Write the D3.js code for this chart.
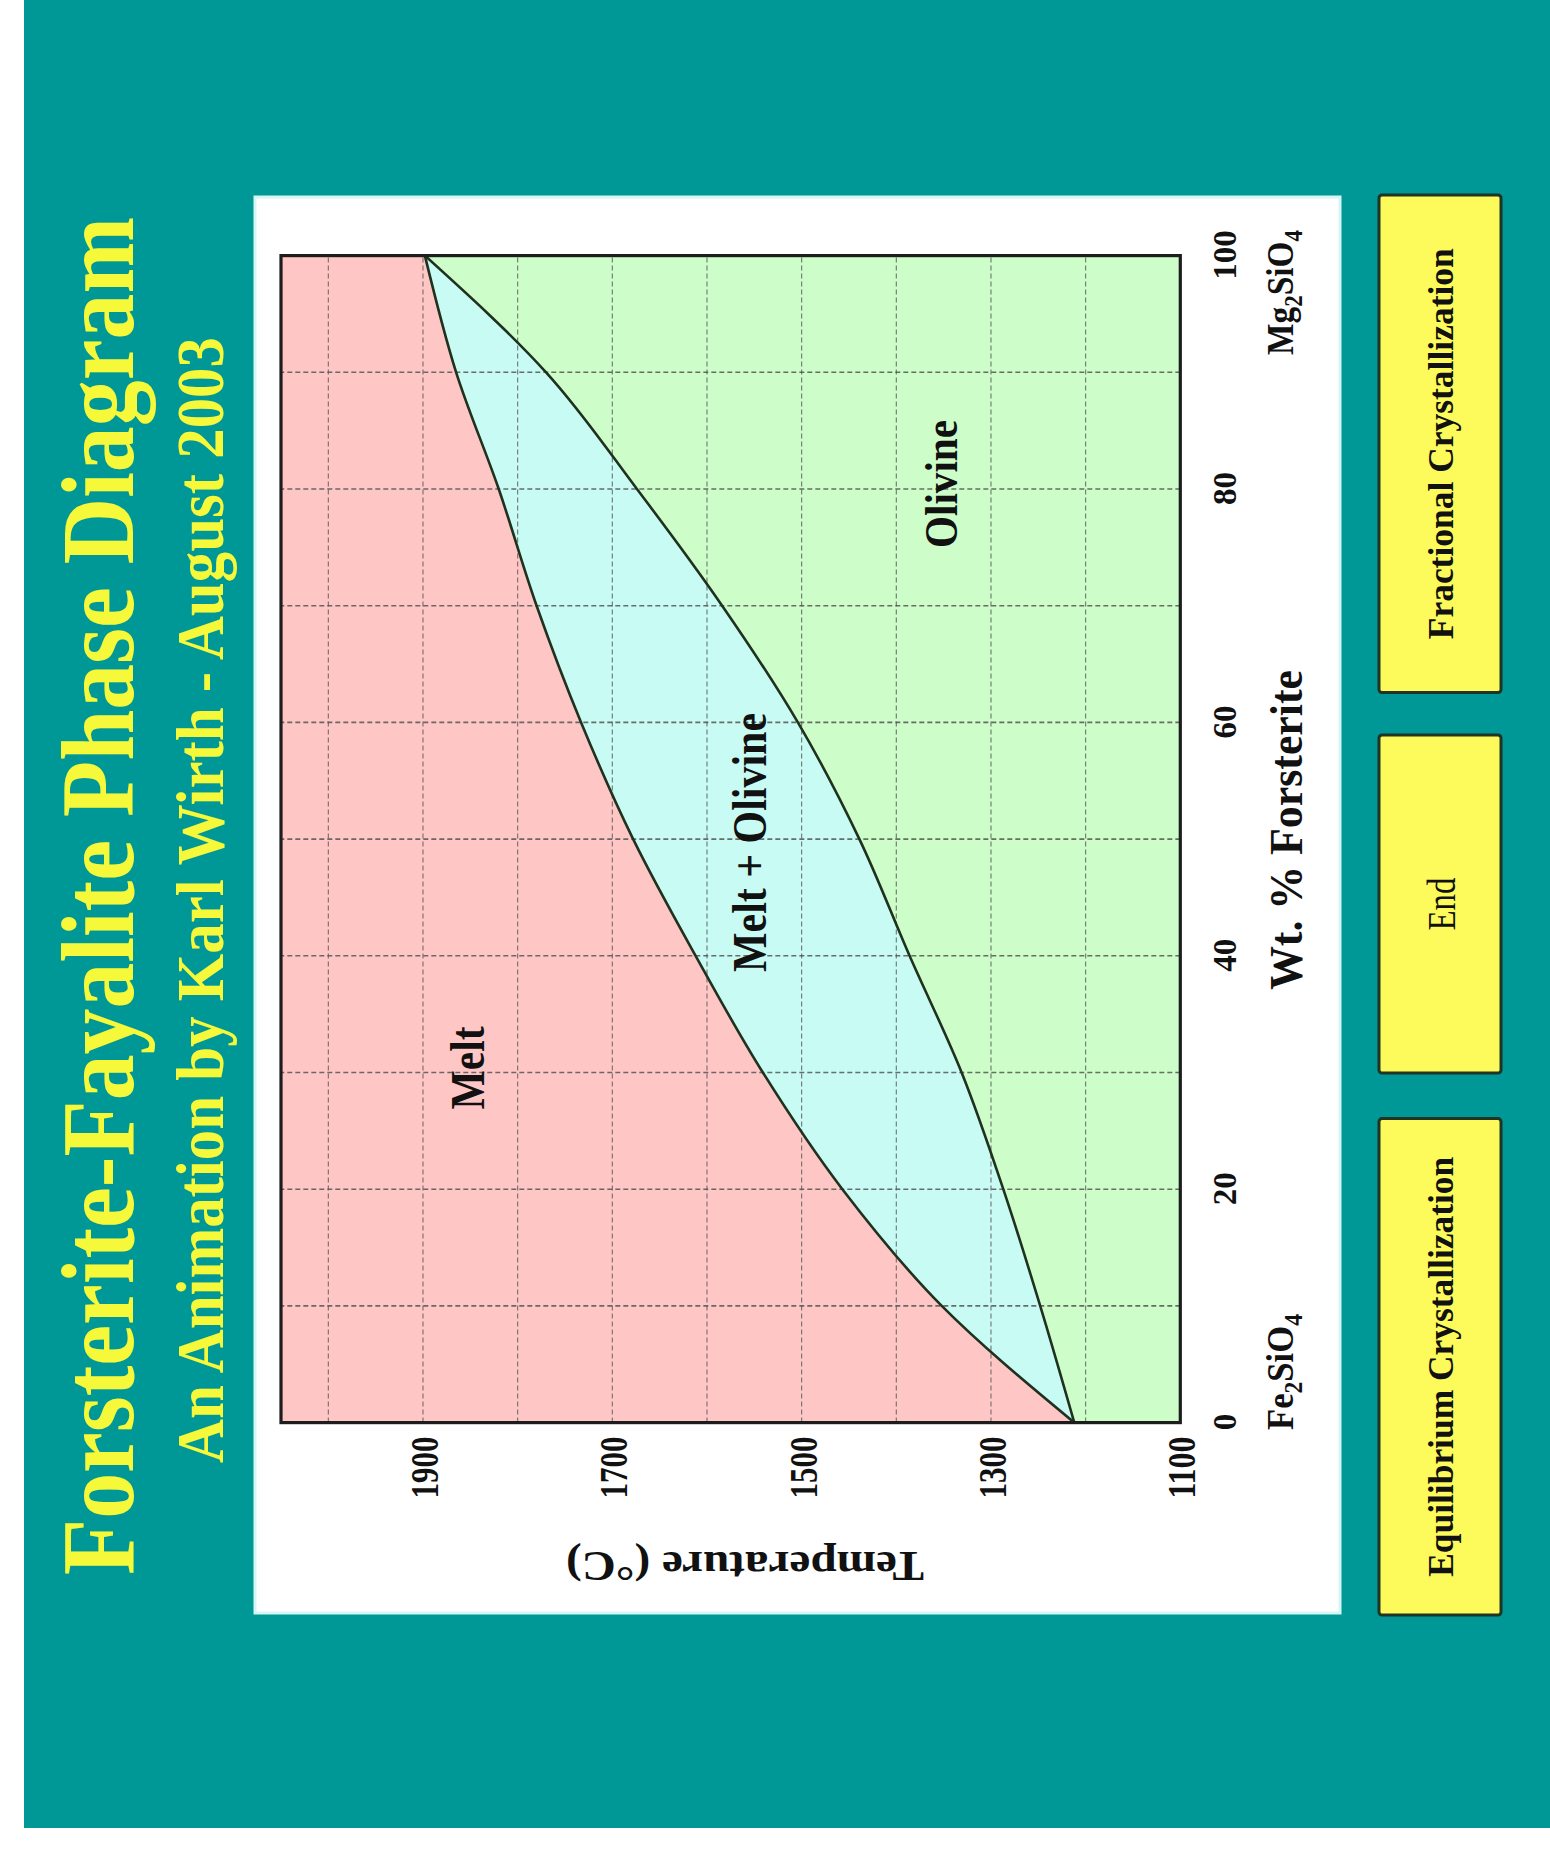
<!DOCTYPE html>
<html>
<head>
<meta charset="utf-8">
<script src="https://cdn.jsdelivr.net/npm/d3@7"></script>
<style>
  html, body { margin: 0; padding: 0; background: #ffffff; }
  svg { display: block; }
  text { font-family: "Liberation Serif", "Times New Roman", Times, serif; }
</style>
</head>
<body>
<svg id="chart" width="1550" height="1861"></svg>
<script>
// Composition (wt. % forsterite) at which the phase boundaries are sampled
const composition = [0, 10, 20, 30, 40, 50, 60, 70, 80, 90, 100];
// Liquidus temperature (°C) — above it everything is melt
const liquidusT = [1212, 1352, 1457, 1541, 1612, 1678, 1733, 1780, 1820, 1865, 1898];
// Solidus temperature (°C) — below it everything is solid olivine
const solidusT = [1212, 1248, 1287, 1331, 1386, 1439, 1504, 1584, 1674, 1770, 1898];

// Axis ticks and labels
const compTicks = [0, 20, 40, 60, 80, 100];
const compGrid = [10, 20, 30, 40, 50, 60, 70, 80, 90];
const tempTicks = [1100, 1300, 1500, 1700, 1900];
const tempGrid = [1200, 1300, 1400, 1500, 1600, 1700, 1800, 1900, 2000];
const tempDomain = [1100, 2050];

// Slide texts
const titleText = "Forsterite-Fayalite Phase Diagram";
const subtitleText = "An Animation by Karl Wirth - August 2003";
const xAxisTitle = "Wt. % Forsterite";
const yAxisTitle = "Temperature (°C)";
const fieldLabels = ["Melt", "Melt + Olivine", "Olivine"];
const buttonLabels = ["Equilibrium Crystallization", "End", "Fractional Crystallization"];

const W = 1550, H = 1861;
const svg = d3.select("#chart");

// The slide is laid out in landscape and turned a quarter-turn counter-clockwise
const slide = svg.append("g").attr("transform", `translate(0,${H}) rotate(-90)`);

// stretch/squeeze a plain text to a given advance length
function fit(sel, len) {
  sel.attr("textLength", len).attr("lengthAdjust", "spacingAndGlyphs");
  return sel;
}
// same, for texts that contain tspans: scale horizontally around the anchor
function squeeze(sel, x, y, len) {
  const w = sel.node().getComputedTextLength();
  sel.attr("x", 0).attr("y", 0)
     .attr("transform", `translate(${x},${y}) scale(${len / w},1)`);
}

// Background
slide.append("rect")
  .attr("x", 33).attr("y", 24).attr("width", 1828).attr("height", 1526)
  .attr("fill", "#009797");

// Title block
fit(slide.append("text")
  .attr("x", 965).attr("y", 133)
  .attr("text-anchor", "middle")
  .attr("font-size", 104).attr("font-weight", "bold")
  .attr("fill", "#f6f93a")
  .text(titleText), 1358);

fit(slide.append("text")
  .attr("x", 961).attr("y", 223)
  .attr("text-anchor", "middle")
  .attr("font-size", 68).attr("font-weight", "bold")
  .attr("fill", "#f6f93a")
  .text(subtitleText), 1126);

// White chart panel
slide.append("rect")
  .attr("x", 248).attr("y", 255).attr("width", 1416).attr("height", 1085)
  .attr("fill", "#ffffff")
  .attr("stroke", "#d6f6f4").attr("stroke-width", 3);

// Scales
const xs = d3.scaleLinear().domain([0, 100]).range([438.4, 1605.4]);
const ys = d3.scaleLinear().domain(tempDomain).range([1180.3, 281]);

const rows = composition.map((c, i) => ({ c, liq: liquidusT[i], sol: solidusT[i] }));

const plot = slide.append("g");
plot.append("clipPath").attr("id", "plotClip")
  .append("rect")
  .attr("x", xs(0)).attr("y", ys(tempDomain[1]))
  .attr("width", xs(100) - xs(0)).attr("height", ys(tempDomain[0]) - ys(tempDomain[1]));

const fields = plot.append("g").attr("clip-path", "url(#plotClip)");

// Olivine (solid) field fills the frame; melt and two-phase fields on top
fields.append("rect")
  .attr("x", xs(0)).attr("y", ys(tempDomain[1]))
  .attr("width", xs(100) - xs(0)).attr("height", ys(tempDomain[0]) - ys(tempDomain[1]))
  .attr("fill", "#cdfdc8");

const curve = d3.curveMonotoneX;

fields.append("path")
  .datum(rows)
  .attr("fill", "#ffc6c6")
  .attr("d", d3.area().curve(curve)
    .x(d => xs(d.c)).y0(ys(tempDomain[1])).y1(d => ys(d.liq)));

fields.append("path")
  .datum(rows)
  .attr("fill", "#c8fbf3")
  .attr("d", d3.area().curve(curve)
    .x(d => xs(d.c)).y0(d => ys(d.liq)).y1(d => ys(d.sol)));

// Dashed grid
fields.selectAll("line.gx").data(compGrid).join("line")
  .attr("class", "gx")
  .attr("x1", d => xs(d)).attr("x2", d => xs(d))
  .attr("y1", ys(tempDomain[0])).attr("y2", ys(tempDomain[1]))
  .attr("stroke", "#555").attr("stroke-width", 1.6)
  .attr("stroke-dasharray", "5,3").attr("opacity", 0.85);

fields.selectAll("line.gy").data(tempGrid).join("line")
  .attr("class", "gy")
  .attr("x1", xs(0)).attr("x2", xs(100))
  .attr("y1", d => ys(d)).attr("y2", d => ys(d))
  .attr("stroke", "#555").attr("stroke-width", 1.1)
  .attr("stroke-dasharray", "5,3").attr("opacity", 0.8);

// Liquidus and solidus
const line = (key) => d3.line().curve(curve).x(d => xs(d.c)).y(d => ys(d[key]));
fields.append("path").datum(rows)
  .attr("fill", "none").attr("stroke", "#1f311f").attr("stroke-width", 2.6)
  .attr("d", line("liq"));
fields.append("path").datum(rows)
  .attr("fill", "none").attr("stroke", "#1f311f").attr("stroke-width", 2.6)
  .attr("d", line("sol"));

// Frame
plot.append("rect")
  .attr("x", xs(0)).attr("y", ys(tempDomain[1]))
  .attr("width", xs(100) - xs(0)).attr("height", ys(tempDomain[0]) - ys(tempDomain[1]))
  .attr("fill", "none").attr("stroke", "#1d1d1d").attr("stroke-width", 3.2);

// Composition axis
const xAxis = plot.append("g")
  .attr("transform", `translate(0,${ys(tempDomain[0])})`)
  .call(d3.axisBottom(xs).tickValues(compTicks).tickSize(0).tickFormat(d3.format("d")));
xAxis.select(".domain").remove();
xAxis.selectAll("text")
  .attr("y", 55.7).attr("dy", 0)
  .attr("font-family", "'Liberation Serif', 'Times New Roman', serif")
  .attr("font-size", 33).attr("font-weight", "bold").attr("fill", "#111");

// Temperature axis
const yAxis = plot.append("g")
  .attr("transform", `translate(${xs(0)},0)`)
  .call(d3.axisLeft(ys).tickValues(tempTicks).tickSize(0).tickPadding(14).tickFormat(d3.format("d")));
yAxis.select(".domain").remove();
yAxis.selectAll("text")
  .attr("dy", "0.35em")
  .attr("font-family", "'Liberation Serif', 'Times New Roman', serif")
  .attr("font-size", 41).attr("font-weight", "bold").attr("fill", "#111")
  .attr("textLength", 62).attr("lengthAdjust", "spacingAndGlyphs");

// Axis titles
fit(slide.append("text")
  .attr("x", 1031).attr("y", 1302)
  .attr("text-anchor", "middle")
  .attr("font-size", 46).attr("font-weight", "bold").attr("fill", "#111")
  .text(xAxisTitle), 320);

fit(slide.append("text")
  .attr("transform", "translate(309,745) rotate(-90)")
  .attr("text-anchor", "middle")
  .attr("font-size", 42).attr("font-weight", "bold").attr("fill", "#111")
  .text(yAxisTitle), 358);

// End-member formulas
function formula(parts, x, y, len, anchor) {
  const t = slide.append("text")
    .attr("text-anchor", anchor)
    .attr("font-size", 38).attr("font-weight", "bold").attr("fill", "#111");
  parts.forEach(p => {
    const s = t.append("tspan").text(p.s);
    if (p.sub) s.attr("font-size", 26).attr("dy", 9);
    else if (p.after) s.attr("dy", -9);
  });
  squeeze(t, x, y, len);
}
formula([{ s: "Fe" }, { s: "2", sub: true }, { s: "SiO", after: true }, { s: "4", sub: true }], 431, 1293, 116, "start");
formula([{ s: "Mg" }, { s: "2", sub: true }, { s: "SiO", after: true }, { s: "4", sub: true }], 1631, 1293, 125, "end");

// Phase-field labels
const fieldPos = [
  { x: 793, y: 484, len: 83, size: 48 },
  { x: 1018.5, y: 766, len: 259, size: 48 },
  { x: 1377, y: 957, len: 128, size: 46 }
];
fieldLabels.forEach((lab, i) => {
  const p = fieldPos[i];
  fit(slide.append("text")
    .attr("x", p.x).attr("y", p.y)
    .attr("text-anchor", "middle")
    .attr("font-size", p.size).attr("font-weight", "bold").attr("fill", "#111")
    .text(lab), p.len);
});

// Navigation buttons
const buttonPos = [
  { x0: 246, x1: 742.4, len: 420, bold: true, base: 1453 },
  { x0: 788, x1: 1126, len: 53, bold: false, base: 1455 },
  { x0: 1168.5, x1: 1666, len: 391, bold: true, base: 1453 }
];
buttonLabels.forEach((lab, i) => {
  const b = buttonPos[i];
  slide.append("rect")
    .attr("x", b.x0).attr("y", 1379)
    .attr("width", b.x1 - b.x0).attr("height", 122)
    .attr("rx", 3)
    .attr("fill", "#fdfb5c")
    .attr("stroke", "#1f3424").attr("stroke-width", 3);
  fit(slide.append("text")
    .attr("x", (b.x0 + b.x1) / 2).attr("y", b.base)
    .attr("text-anchor", "middle")
    .attr("font-size", b.bold ? 36 : 39)
    .attr("font-weight", b.bold ? "bold" : "normal")
    .attr("fill", "#111")
    .text(lab), b.len);
});
</script>
</body>
</html>
